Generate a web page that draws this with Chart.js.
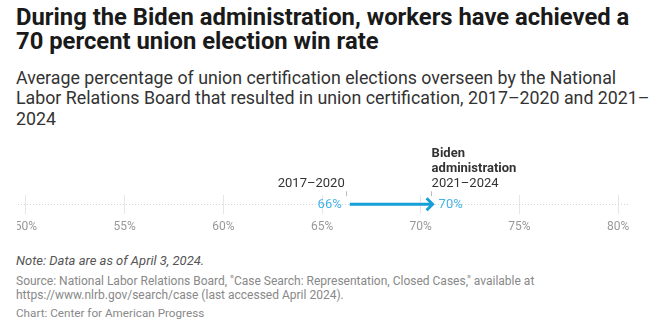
<!DOCTYPE html>
<html>
<head>
<meta charset="utf-8">
<script src="https://cdn.jsdelivr.net/npm/chart.js@4.4.1/dist/chart.umd.min.js"></script>
<style>
  body { margin: 0; width: 660px; height: 330px; background: #fff; font-family: Roboto, sans-serif; position: relative; overflow: hidden; }
  .title { position: absolute; left: 16px; top: 6px; width: 625px; font-size: 23.8px; line-height: 23.5px; font-weight: 700; color: #1a1a1a; }
  .subtitle { position: absolute; left: 16px; top: 68px; width: 640px; font-size: 17.8px; line-height: 20.3px; color: #333; }
  .chart-box { position: absolute; left: 0; top: 140px; width: 660px; height: 100px; }
  #myChart { clip-path: inset(0 0 0 17px); }
  .note { position: absolute; left: 16px; top: 253px; font-size: 13px; font-style: italic; color: #555; }
  .source { position: absolute; left: 16px; top: 274px; width: 600px; font-size: 12px; line-height: 14px; color: #888; }
  .credit { position: absolute; left: 16px; top: 306px; font-size: 11.7px; color: #888; }
</style>
</head>
<body>
<div class="title">During the Biden administration, workers have achieved a 70 percent union election win rate</div>
<div class="subtitle">Average percentage of union certification elections overseen by the National Labor Relations Board that resulted in union certification, 2017–2020 and 2021–&#8203;2024</div>
<div class="chart-box"><canvas id="myChart" width="660" height="100"></canvas></div>
<div class="note">Note: Data are as of April 3, 2024.</div>
<div class="source">Source: National Labor Relations Board, "Case Search: Representation, Closed Cases," available at https://www.nlrb.gov/search/case (last accessed April 2024).</div>
<div class="credit">Chart: Center for American Progress</div>

<script>
// Data
const periods = ['2017–2020', '2021–2024'];
const periodHeads = [[], ['Biden', 'administration']];
const winRates = [66.2, 70.5];
const rateLabels = ['66%', '70%'];
const tickValues = [50, 55, 60, 65, 70, 75, 80];

const arrowColor = '#169fd9';
const labelBlue = '#45b3e6';

// draws the arrow, value labels and period labels from the dataset points
const arrowLabels = {
  id: 'arrowLabels',
  afterDatasetsDraw(chart) {
    const ctx = chart.ctx;
    const pts = chart.getDatasetMeta(0).data;
    const p1 = pts[0], p2 = pts[1];
    ctx.save();

    // shaft + head
    ctx.strokeStyle = arrowColor;
    ctx.lineWidth = 3;
    ctx.beginPath();
    ctx.moveTo(p1.x + 4, p1.y);
    ctx.lineTo(p2.x + 1, p2.y);
    ctx.stroke();
    ctx.lineJoin = 'miter';
    ctx.beginPath();
    ctx.moveTo(p2.x - 4, p2.y - 6);
    ctx.lineTo(p2.x + 2, p2.y);
    ctx.lineTo(p2.x - 4, p2.y + 6);
    ctx.stroke();

    // value labels
    ctx.font = '13px Roboto';
    ctx.fillStyle = labelBlue;
    ctx.textBaseline = 'middle';
    ctx.textAlign = 'right';
    ctx.fillText(rateLabels[0], p1.x - 4, p1.y);
    ctx.textAlign = 'left';
    ctx.fillText(rateLabels[1], p2.x + 8, p2.y);

    // small ticks above points
    ctx.strokeStyle = '#bbb';
    ctx.lineWidth = 1;
    [p1, p2].forEach(p => {
      ctx.beginPath();
      ctx.moveTo(Math.round(p.x) + 0.5, p.y - 13);
      ctx.lineTo(Math.round(p.x) + 0.5, p.y - 8);
      ctx.stroke();
    });

    // period labels
    ctx.fillStyle = '#333';
    ctx.textAlign = 'right';
    ctx.font = '13px Roboto';
    ctx.fillText(periods[0], p1.x - 1, p1.y - 21);
    ctx.textAlign = 'left';
    ctx.fillText(periods[1], p2.x + 1, p2.y - 21);
    ctx.font = 'bold 13px Roboto';
    const heads = periodHeads[1];
    heads.forEach((t, i) => {
      ctx.fillText(t, p2.x + 1, p2.y - 21 - 15 * (heads.length - i));
    });
    ctx.restore();
  }
};

const ctx = document.getElementById('myChart').getContext('2d');
new Chart(ctx, {
  type: 'line',
  data: {
    datasets: [{
      data: winRates.map(v => ({x: v, y: 0})),
      borderColor: arrowColor,
      borderWidth: 0,
      pointRadius: 0,
      fill: false
    }]
  },
  options: {
    responsive: false,
    animation: false,
    layout: { padding: { left: 18, right: 30, top: 55, bottom: 8 } },
    plugins: { legend: { display: false }, tooltip: { enabled: false } },
    scales: {
      x: {
        type: 'linear',
        min: 49.6,
        max: 80.6,
        afterBuildTicks: s => { s.ticks = tickValues.map(v => ({value: v})); },
        grid: { color: '#e6e6e6', drawTicks: false },
        border: { display: false },
        ticks: {
          padding: 6,
          color: '#999',
          font: { family: 'Roboto', size: 12 },
          callback: v => v + '%'
        }
      },
      y: {
        min: -1,
        max: 1,
        afterBuildTicks: s => { s.ticks = [{value: 0}]; },
        grid: { color: '#d4d4d4', drawTicks: false },
        border: { display: false, dash: [1, 2] },
        ticks: { display: false }
      }
    }
  },
  plugins: [arrowLabels]
});
</script>
</body>
</html>
